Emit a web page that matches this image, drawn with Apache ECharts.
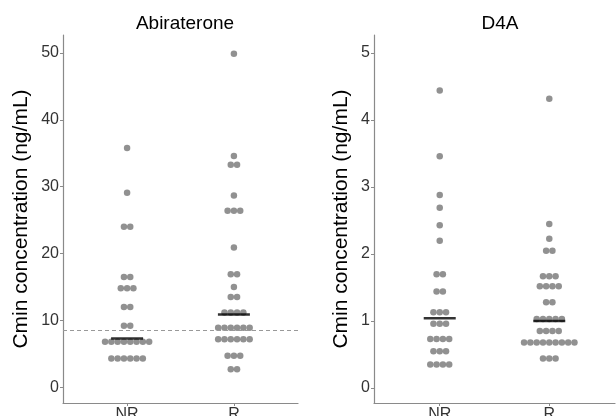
<!DOCTYPE html>
<html>
<head>
<meta charset="utf-8">
<script src="https://cdn.jsdelivr.net/npm/echarts@6/dist/echarts.min.js"></script>
<style>
  html, body { margin: 0; padding: 0; background: #fff; }
  #chart { width: 616px; height: 416px; }
</style>
</head>
<body>
<div id="chart"></div>
<script>
const groups = ['NR', 'R'];
const panelTitles = ['Abiraterone', 'D4A'];
const yTitle = 'Cmin concentration (ng/mL)';

// Cmin values per patient (binned like the dotplot)
const abiNR = [35.8, 29.1, 24.0, 24.0, 16.5, 16.5, 14.8, 14.8, 14.8, 12.0, 12.0, 9.2, 9.2,
  6.8, 6.8, 6.8, 6.8, 6.8, 6.8, 6.8, 6.8, 4.3, 4.3, 4.3, 4.3, 4.3, 4.3];
const abiR = [49.9, 34.6, 33.3, 33.3, 28.7, 26.4, 26.4, 26.4, 20.9, 16.9, 16.9, 15.0, 13.5, 13.5,
  11.2, 11.2, 11.2, 11.2, 8.9, 8.9, 8.9, 8.9, 8.9, 8.9, 7.2, 7.2, 7.2, 7.2, 7.2, 7.2,
  4.7, 4.7, 4.7, 2.7, 2.7];
const d4aNR = [4.44, 3.46, 2.88, 2.69, 2.43, 2.20, 1.70, 1.70, 1.44, 1.44, 1.13, 1.13, 1.13,
  0.96, 0.96, 0.96, 0.73, 0.73, 0.73, 0.73, 0.55, 0.55, 0.55, 0.35, 0.35, 0.35, 0.35];
const d4aR = [4.32, 2.45, 2.23, 2.05, 2.05, 1.67, 1.67, 1.67, 1.52, 1.52, 1.52, 1.52, 1.28, 1.28,
  1.03, 1.03, 1.03, 1.03, 1.03, 0.85, 0.85, 0.85, 0.85,
  0.68, 0.68, 0.68, 0.68, 0.68, 0.68, 0.68, 0.68, 0.68, 0.44, 0.44, 0.44];

const abiMedian = [7.3, 10.9];
const d4aMedian = [1.04, 1.0];
const abiCutoff = 8.5;

const abiTicks = [0, 10, 20, 30, 40, 50];
const d4aTicks = [0, 1, 2, 3, 4, 5];

const FONT = "'Liberation Sans', Arial, sans-serif";
const DOT = '#767676';
const AXIS = '#8a8a8a';

// stack equal values side by side, centred on the group (stackdir = "center")
function dotplot(values, xi) {
  const counts = {};
  values.forEach(v => { counts[v] = (counts[v] || 0) + 1; });
  const seen = {};
  return values.map(v => {
    seen[v] = seen[v] === undefined ? 0 : seen[v] + 1;
    const off = (seen[v] - (counts[v] - 1) / 2) * 6.3;
    return { value: [xi, v], symbolOffset: [off, 0] };
  });
}

function xAxis(gi) {
  return {
    gridIndex: gi, type: 'value', min: 0.4, max: 2.6,
    axisLine: { show: true, onZero: false, lineStyle: { color: AXIS, width: 1.2 } },
    axisTick: { show: true, length: 3, customValues: [1, 2], lineStyle: { color: AXIS } },
    axisLabel: {
      customValues: [1, 2], formatter: v => groups[v - 1],
      fontFamily: FONT, fontSize: 16, color: '#333', margin: 4
    },
    splitLine: { show: false }
  };
}

function yAxis(gi, min, max, ticks, gap) {
  return {
    gridIndex: gi, type: 'value', min: min, max: max,
    axisLine: { show: true, onZero: false, lineStyle: { color: AXIS, width: 1.2 } },
    axisTick: { show: true, length: 3, customValues: ticks, lineStyle: { color: AXIS } },
    axisLabel: { customValues: ticks, fontFamily: FONT, fontSize: 16, color: '#333', margin: 4 },
    splitLine: { show: false },
    name: yTitle, nameLocation: 'middle', nameGap: gap,
    nameTextStyle: { fontFamily: FONT, fontSize: 21, color: '#000' }
  };
}

function medianSeries(gi, meds) {
  return {
    type: 'scatter', xAxisIndex: gi, yAxisIndex: gi,
    symbol: 'rect', symbolSize: [32, 2.5],
    itemStyle: { color: '#000' }, z: 5, silent: true,
    data: meds.map((m, i) => [i + 1, m])
  };
}

const chart = echarts.init(document.getElementById('chart'));
chart.setOption({
  animation: false,
  backgroundColor: '#fff',
  title: [
    { text: panelTitles[0], left: 180, top: 9, textAlign: 'center',
      textStyle: { fontFamily: FONT, fontSize: 19, fontWeight: 'normal', color: '#000' } },
    { text: panelTitles[1], left: 495, top: 9, textAlign: 'center',
      textStyle: { fontFamily: FONT, fontSize: 19, fontWeight: 'normal', color: '#000' } }
  ],
  grid: [
    { left: 63, top: 35, width: 235, height: 368, outerBoundsMode: 'none', containLabel: false },
    { left: 374, top: 35, width: 241, height: 368, outerBoundsMode: 'none', containLabel: false }
  ],
  xAxis: [xAxis(0), xAxis(1)],
  yAxis: [yAxis(0, -2.35, 52.7, abiTicks, 31), yAxis(1, -0.224, 5.27, d4aTicks, 22)],
  series: [
    {
      type: 'scatter', xAxisIndex: 0, yAxisIndex: 0, symbolSize: 6.5,
      itemStyle: { color: DOT }, silent: true,
      data: dotplot(abiNR, 1).concat(dotplot(abiR, 2)),
      markLine: {
        silent: true, symbol: 'none', label: { show: false },
        lineStyle: { color: '#999', type: [4, 3], width: 1 },
        data: [{ yAxis: abiCutoff }]
      }
    },
    medianSeries(0, abiMedian),
    {
      type: 'scatter', xAxisIndex: 1, yAxisIndex: 1, symbolSize: 6.5,
      itemStyle: { color: DOT }, silent: true,
      data: dotplot(d4aNR, 1).concat(dotplot(d4aR, 2))
    },
    medianSeries(1, d4aMedian)
  ]
});
</script>
</body>
</html>
